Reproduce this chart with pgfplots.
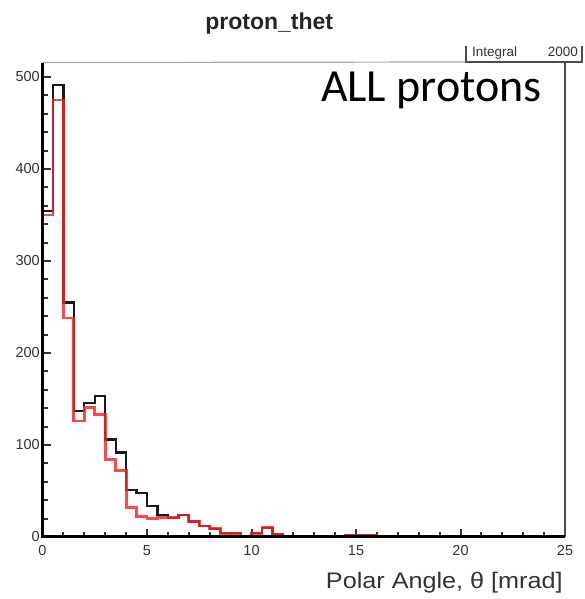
\documentclass[border=0pt]{standalone}
\usepackage{pgfplots}
\pgfplotsset{compat=1.18}
\usepackage{pgfplotstable}
\usepackage{fontspec}
\setmainfont{Liberation Sans}
\newfontfamily\calibri{Carlito}
\definecolor{histblack}{HTML}{1A1A1A}
\definecolor{histred}{HTML}{FF2020}
\definecolor{labgray}{HTML}{333333}

% black histogram (Integral 2000), bin width 0.5 mrad, left bin edges
\pgfplotstableread{
x y
0.0 354
0.5 491
1.0 255
1.5 137
2.0 146
2.5 153
3.0 106
3.5 92
4.0 51
4.5 48
5.0 34
5.5 24
6.0 21
6.5 24
7.0 17
7.5 12
8.0 9
8.5 4
9.0 4
9.5 1
10.0 4
10.5 10
11.0 3
11.5 0
12.0 0
12.5 0
13.0 1
13.5 0
14.0 0
14.5 2
15.0 2
15.5 2
16.0 0
16.5 0
17.0 0
17.5 0
18.0 0
18.5 0
19.0 0
19.5 0
20.0 0
20.5 0
21.0 0
21.5 0
22.0 0
22.5 0
23.0 0
23.5 0
24.0 0
24.5 0
25.0 0
}\blackhist

% red histogram
\pgfplotstableread{
x y
0.0 350
0.5 475
1.0 238
1.5 126
2.0 141
2.5 133
3.0 84
3.5 72
4.0 32
4.5 22
5.0 20
5.5 21
6.0 21
6.5 24
7.0 17
7.5 12
8.0 9
8.5 4
9.0 4
9.5 1
10.0 4
10.5 10
11.0 3
11.5 0
12.0 0
12.5 0
13.0 1
13.5 0
14.0 0
14.5 2
15.0 2
15.5 2
16.0 0
16.5 0
17.0 0
17.5 0
18.0 0
18.5 0
19.0 0
19.5 0
20.0 0
20.5 0
21.0 0
21.5 0
22.0 0
22.5 0
23.0 0
23.5 0
24.0 0
24.5 0
25.0 0
}\redhist

\begin{document}
\begin{tikzpicture}[x=1pt,y=1pt]
\useasboundingbox (0,0) rectangle (584,599);
\begin{axis}[
  name=ax,
  at={(42.5pt,62pt)}, anchor=south west,
  scale only axis, width=522.5pt, height=474.4pt,
  xmin=0, xmax=25, ymin=0, ymax=515.6,
  xtick={0,5,...,25}, ytick={0,100,...,500},
  minor x tick num=4, minor y tick num=4,
  tick align=inside, xtick pos=bottom, ytick pos=left,
  major tick length=8pt, minor tick length=5pt,
  every tick/.append style={line width=2pt, draw=black!80},
  major tick style={line width=2pt, draw=black!80},
  minor tick style={line width=2pt, draw=black!80},
  /pgf/number format/assume math mode=true,
  ticklabel style={font=\fontsize{14.5}{14.5}\selectfont, text=labgray},
  yticklabel style={anchor=east, inner sep=0pt, xshift=-2.5pt},
  xticklabel style={anchor=north, inner sep=0pt, yshift=-8pt},
  axis line style={draw=none},
  clip=false,
  title={proton\_thet},
  title style={at={(axis description cs:0.434,1)}, anchor=base, yshift=27pt, inner sep=0pt,
    font=\fontsize{23}{23}\selectfont\bfseries, text=black!85},
  xlabel={Polar Angle, θ [mrad]},
  xlabel style={at={(axis description cs:0.996,0)}, anchor=base east, yshift=-51pt, inner sep=0pt,
    font=\fontsize{22.5}{22.5}\selectfont, text=labgray, xscale=1.12},
]
\addplot[const plot mark left, draw=histblack, line width=2.3pt] table[x=x, y=y] {\blackhist};
\addplot[const plot mark left, draw=histred, opacity=0.82, line width=2.8pt] table[x=x, y=y] {\redhist};
\end{axis}
% ROOT-style frame: thin grey top, thin dark right edge, heavy left and bottom axes
\draw[gray!70, line width=1.2pt] (ax.north west) -- (466,537);
\draw[gray!60!black, line width=1.4pt] (ax.south east) -- (ax.north east);
\draw[black, line width=3pt] (ax.north west) -- (ax.south west) -- (ax.south east);
% statistics box (top clipped as in the reference)
\fill[white] (466,537) rectangle (582,553);
\draw[gray!60!black, line width=1.3pt] (466,553) -- (466,537) -- (582,537) -- (582,553);
\node[anchor=base west, inner sep=0pt, font=\fontsize{13.5}{13.5}\selectfont, text=labgray] at (472,542) {Integral};
\node[anchor=base east, inner sep=0pt, font=\fontsize{13.5}{13.5}\selectfont, text=labgray] at (578,542) {2000};
% annotation
\node[anchor=base east, inner sep=0pt, font=\calibri\fontsize{46}{46}\selectfont] at (542,497) {ALL protons};
\end{tikzpicture}
\end{document}
